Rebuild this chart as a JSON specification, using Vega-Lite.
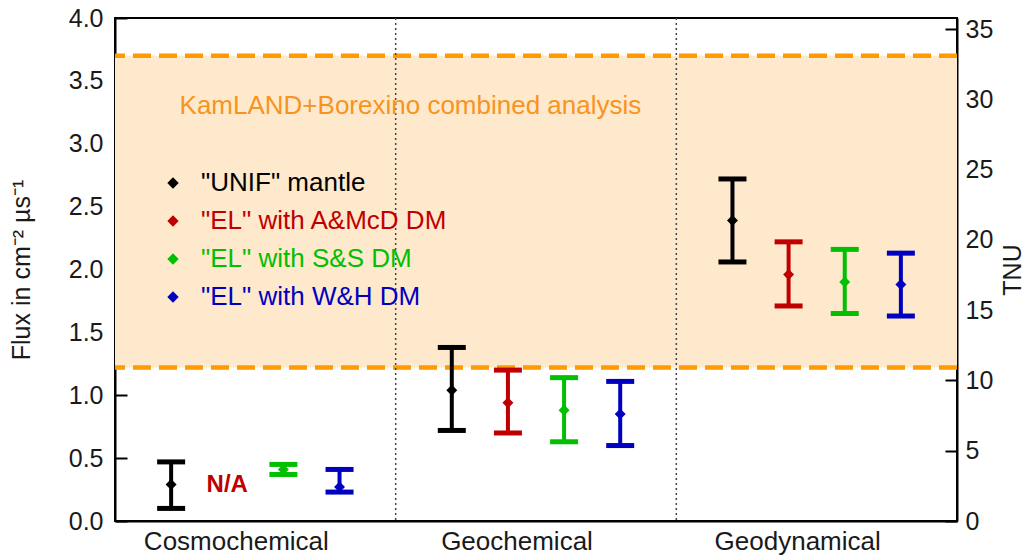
{
  "$schema": "https://vega.github.io/schema/vega-lite/v6.json",
  "width": 842,
  "height": 503,
  "autosize": {"type": "none"},
  "padding": {"left": 115, "top": 18, "right": 71, "bottom": 35},
  "background": "white",
  "config": {
    "font": "Liberation Sans",
    "view": {"stroke": "black", "strokeWidth": 2},
    "axis": {"grid": false, "domainColor": "black", "domainWidth": 2, "tickColor": "black", "tickWidth": 2, "labelColor": "#1a1a1a", "titleColor": "#1a1a1a", "titleFontWeight": "normal", "labelFontSize": 25, "titleFontSize": 25}
  },
  "datasets": {
    "models": [
      {"cat": "Cosmochemical", "model": "\"UNIF\" mantle", "flux": 0.29, "lo": 0.10, "hi": 0.47},
      {"cat": "Cosmochemical", "model": "\"EL\" with S&S DM", "flux": 0.41, "lo": 0.37, "hi": 0.45},
      {"cat": "Cosmochemical", "model": "\"EL\" with W&H DM", "flux": 0.27, "lo": 0.23, "hi": 0.41},
      {"cat": "Geochemical", "model": "\"UNIF\" mantle", "flux": 1.04, "lo": 0.72, "hi": 1.38},
      {"cat": "Geochemical", "model": "\"EL\" with A&McD DM", "flux": 0.94, "lo": 0.70, "hi": 1.20},
      {"cat": "Geochemical", "model": "\"EL\" with S&S DM", "flux": 0.88, "lo": 0.63, "hi": 1.14},
      {"cat": "Geochemical", "model": "\"EL\" with W&H DM", "flux": 0.85, "lo": 0.60, "hi": 1.11},
      {"cat": "Geodynamical", "model": "\"UNIF\" mantle", "flux": 2.39, "lo": 2.06, "hi": 2.72},
      {"cat": "Geodynamical", "model": "\"EL\" with A&McD DM", "flux": 1.96, "lo": 1.71, "hi": 2.22},
      {"cat": "Geodynamical", "model": "\"EL\" with S&S DM", "flux": 1.90, "lo": 1.65, "hi": 2.16},
      {"cat": "Geodynamical", "model": "\"EL\" with W&H DM", "flux": 1.88, "lo": 1.63, "hi": 2.13}
    ],
    "measured": [{"lo": 1.22, "hi": 3.70}],
    "bounds": [{"flux": 1.22}, {"flux": 3.70}],
    "groups": [{"cat": "Geochemical"}, {"cat": "Geodynamical"}]
  },
  "layer": [
    {
      "layer": [
        {
          "data": {"name": "measured"},
          "mark": {"type": "rect", "color": "#fee9cd"},
          "encoding": {
            "y": {"field": "lo", "type": "quantitative", "scale": {"domain": [0, 4], "nice": false},
              "axis": {"title": "Flux in cm⁻² µs⁻¹", "titlePadding": 34, "values": [0, 0.5, 1, 1.5, 2, 2.5, 3, 3.5, 4], "format": ".1f", "tickSize": -12, "labelPadding": 24}},
            "y2": {"field": "hi"}
          }
        },
        {
          "data": {"name": "bounds"},
          "mark": {"type": "rule", "color": "#ff9a00", "strokeWidth": 4.5, "strokeDash": [18, 8]},
          "encoding": {
            "y": {"field": "flux", "type": "quantitative",
              "axis": {"title": "Flux in cm⁻² µs⁻¹", "titlePadding": 34, "values": [0, 0.5, 1, 1.5, 2, 2.5, 3, 3.5, 4], "format": ".1f", "tickSize": -12, "labelPadding": 24}}
          }
        },
        {
          "data": {"name": "groups"},
          "mark": {"type": "rule", "color": "#444444", "strokeWidth": 1.5, "strokeDash": [2, 3]},
          "encoding": {
            "x": {"field": "cat", "type": "nominal", "bandPosition": 0,
              "axis": {"title": null, "ticks": false, "labelPadding": 7, "labelAngle": 0, "labelFontSize": 26, "labelLimit": 300, "labelOffset": -19}}
          }
        },
        {
          "data": {"values": [{"cat": "Cosmochemical", "flux": 3.30, "label": "KamLAND+Borexino combined analysis"}]},
          "mark": {"type": "text", "color": "#f7941d", "fontSize": 26, "align": "left", "baseline": "middle"},
          "encoding": {
            "x": {"field": "cat", "type": "nominal", "bandPosition": 0.23,
              "axis": {"title": null, "ticks": false, "labelPadding": 7, "labelAngle": 0, "labelFontSize": 26, "labelLimit": 300, "labelOffset": -19}},
            "y": {"field": "flux", "type": "quantitative",
              "axis": {"title": "Flux in cm⁻² µs⁻¹", "titlePadding": 34, "values": [0, 0.5, 1, 1.5, 2, 2.5, 3, 3.5, 4], "format": ".1f", "tickSize": -12, "labelPadding": 24}},
            "text": {"field": "label"}
          }
        },
        {
          "data": {"name": "models"},
          "mark": {"type": "rule", "strokeWidth": 4, "opacity": 1},
          "encoding": {
            "x": {"field": "cat", "type": "nominal",
              "axis": {"title": null, "ticks": false, "labelPadding": 7, "labelAngle": 0, "labelFontSize": 26, "labelLimit": 300, "labelOffset": -19}},
            "xOffset": {"field": "model", "type": "nominal"},
            "y": {"field": "lo", "type": "quantitative",
              "axis": {"title": "Flux in cm⁻² µs⁻¹", "titlePadding": 34, "values": [0, 0.5, 1, 1.5, 2, 2.5, 3, 3.5, 4], "format": ".1f", "tickSize": -12, "labelPadding": 24}},
            "y2": {"field": "hi"},
            "stroke": {"field": "model", "type": "nominal", "legend": null,
              "scale": {"range": ["#c00000", "#00c000", "#0000c0", "#000000"]}}
          }
        },
        {
          "data": {"name": "models"},
          "mark": {"type": "tick", "orient": "horizontal", "size": 28, "thickness": 5, "opacity": 1},
          "encoding": {
            "x": {"field": "cat", "type": "nominal",
              "axis": {"title": null, "ticks": false, "labelPadding": 7, "labelAngle": 0, "labelFontSize": 26, "labelLimit": 300, "labelOffset": -19}},
            "xOffset": {"field": "model", "type": "nominal"},
            "y": {"field": "lo", "type": "quantitative",
              "axis": {"title": "Flux in cm⁻² µs⁻¹", "titlePadding": 34, "values": [0, 0.5, 1, 1.5, 2, 2.5, 3, 3.5, 4], "format": ".1f", "tickSize": -12, "labelPadding": 24}},
            "fill": {"field": "model", "type": "nominal", "legend": null,
              "scale": {"range": ["#c00000", "#00c000", "#0000c0", "#000000"]}}
          }
        },
        {
          "data": {"name": "models"},
          "mark": {"type": "tick", "orient": "horizontal", "size": 28, "thickness": 5, "opacity": 1},
          "encoding": {
            "x": {"field": "cat", "type": "nominal",
              "axis": {"title": null, "ticks": false, "labelPadding": 7, "labelAngle": 0, "labelFontSize": 26, "labelLimit": 300, "labelOffset": -19}},
            "xOffset": {"field": "model", "type": "nominal"},
            "y": {"field": "hi", "type": "quantitative",
              "axis": {"title": "Flux in cm⁻² µs⁻¹", "titlePadding": 34, "values": [0, 0.5, 1, 1.5, 2, 2.5, 3, 3.5, 4], "format": ".1f", "tickSize": -12, "labelPadding": 24}},
            "fill": {"field": "model", "type": "nominal", "legend": null}
          }
        },
        {
          "data": {"values": [{"cat": "Cosmochemical", "model": "\"EL\" with A&McD DM", "flux": 0.29, "label": "N/A"}]},
          "mark": {"type": "text", "fontSize": 24, "fontWeight": "bold", "align": "center", "baseline": "middle"},
          "encoding": {
            "x": {"field": "cat", "type": "nominal",
              "axis": {"title": null, "ticks": false, "labelPadding": 7, "labelAngle": 0, "labelFontSize": 26, "labelLimit": 300, "labelOffset": -19}},
            "xOffset": {"field": "model", "type": "nominal"},
            "y": {"field": "flux", "type": "quantitative",
              "axis": {"title": "Flux in cm⁻² µs⁻¹", "titlePadding": 34, "values": [0, 0.5, 1, 1.5, 2, 2.5, 3, 3.5, 4], "format": ".1f", "tickSize": -12, "labelPadding": 24}},
            "text": {"field": "label"},
            "fill": {"field": "model", "type": "nominal", "legend": null}
          }
        },
        {
          "data": {"name": "models"},
          "mark": {"type": "point", "shape": "diamond", "filled": true, "size": 120, "opacity": 1},
          "encoding": {
            "x": {
              "field": "cat", "type": "nominal", "sort": ["Cosmochemical", "Geochemical", "Geodynamical"],
              "scale": {"domain": ["Cosmochemical", "Geochemical", "Geodynamical"], "paddingInner": 0, "paddingOuter": 0},
              "axis": {"title": null, "ticks": false, "labelPadding": 7, "labelAngle": 0, "labelFontSize": 26, "labelLimit": 300, "labelOffset": -19}
            },
            "xOffset": {
              "field": "model", "type": "nominal",
              "scale": {"type": "point", "padding": 1, "domain": ["\"UNIF\" mantle", "\"EL\" with A&McD DM", "\"EL\" with S&S DM", "\"EL\" with W&H DM"]}
            },
            "y": {
              "field": "flux", "type": "quantitative",
              "axis": {"title": "Flux in cm⁻² µs⁻¹", "titlePadding": 34, "values": [0, 0.5, 1, 1.5, 2, 2.5, 3, 3.5, 4], "format": ".1f", "tickSize": -12, "labelPadding": 24}
            },
            "color": {
              "field": "model", "type": "nominal",
              "scale": {"domain": ["\"UNIF\" mantle", "\"EL\" with A&McD DM", "\"EL\" with S&S DM", "\"EL\" with W&H DM"], "range": ["#000000", "#c00000", "#00c000", "#0000c0"]},
              "legend": {
                "title": null, "orient": "none", "legendX": 45, "legendY": 152, "padding": 0,
                "symbolType": "diamond", "symbolSize": 130, "symbolStrokeWidth": 0,
                "labelFontSize": 26, "labelOffset": 15, "rowPadding": 12, "labelLimit": 400,
                "labelColor": {"expr": "scale('color', datum.value)"}
              }
            }
          }
        }
      ]
    },
    {
      "data": {"values": [{"tnu": 0}, {"tnu": 35}]},
      "mark": {"type": "point", "opacity": 0},
      "encoding": {
        "y": {
          "field": "tnu", "type": "quantitative",
          "scale": {"domain": [0, 35.8], "nice": false},
          "axis": {"orient": "right", "title": "TNU", "titleAngle": 270, "titlePadding": 33, "values": [0, 5, 10, 15, 20, 25, 30, 35], "tickSize": -12, "labelPadding": 20}
        }
      }
    }
  ],
  "resolve": {"scale": {"y": "independent"}}
}
